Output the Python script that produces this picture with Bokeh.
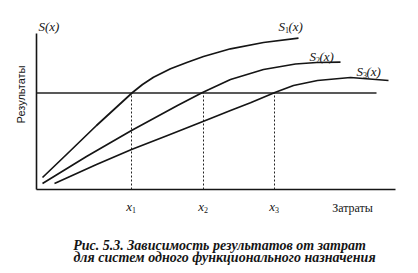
import math
from bokeh.plotting import figure
from bokeh.models import Range1d
from bokeh.core.properties import value
from bokeh.embed import file_html
from bokeh.resources import INLINE

# ---- data (cost units along x, result units along y) ----
s1_x = [6, 30, 60, 84, 96, 106, 117, 134, 151, 167, 194, 227, 262]
s1_y = [12, 35, 64, 86, 97, 105, 112.3, 120.7, 127.3, 133, 140.7, 147, 151.3]

s2_x = [6, 50, 95, 141, 166, 194, 227, 259, 280, 304]
s2_y = [6, 33, 59, 84, 97, 110, 120, 125.5, 127, 127.3]

s3_x = [18, 60, 95, 131, 174, 194, 214, 239, 257, 281, 314, 352]
s3_y = [6, 25, 40, 54, 71, 79, 86.7, 97.3, 104, 109, 112, 109]

level = 96.5            # required result level
level_end = 340
x_marks = [95, 167, 238]  # x1, x2, x3
x_mark_labels = ["x", "x", "x"]
x_mark_subs = ["1", "2", "3"]
x_axis_end = 359
y_axis_end = 156

curve_labels = ["1", "2", "3"]
curve_label_pos = [(242, 163), (273, 133), (320, 118)]

caption = ["Рис. 5.3. Зависимость результатов от затрат",
           "для систем одного функционального назначения"]

SERIF = value("Liberation Serif")
SANS = value("Liberation Sans")
INK = "#151515"

p = figure(width=418, height=273, x_range=Range1d(-36, 382), y_range=Range1d(-84, 189),
           min_border=0, toolbar_location=None, output_backend="svg",
           x_axis_type=None, y_axis_type=None)
p.grid.visible = False
p.outline_line_color = None
p.background_fill_color = "white"
p.border_fill_color = "white"

# axes
p.segment(x0=[0, 0], y0=[0, 0], x1=[0, x_axis_end], y1=[y_axis_end, 0],
          line_color=INK, line_width=1.6)
# level line
p.segment(x0=[0], y0=[level], x1=[level_end], y1=[level], line_color="#222222", line_width=1.3)
# dashed verticals
p.segment(x0=x_marks, y0=[0] * 3, x1=x_marks, y1=[level] * 3,
          line_color="#222222", line_width=1, line_dash="2 2")

# curves
for xs, ys in [(s1_x, s1_y), (s2_x, s2_y), (s3_x, s3_y)]:
    p.line(xs, ys, line_color=INK, line_width=1.7, line_join="round")

# curve labels  S_k(x)
lx = [pt[0] for pt in curve_label_pos]
ly = [pt[1] for pt in curve_label_pos]
p.text(x=lx, y=ly, text=["S"] * 3, text_font=SERIF, text_font_style="italic",
       text_font_size="13px", text_color=INK, text_align="left", text_baseline="alphabetic")
p.text(x=[v + 6.5 for v in lx], y=[v - 3 for v in ly], text=curve_labels, text_font=SERIF,
       text_font_size="8px", text_color=INK, text_align="left", text_baseline="alphabetic")
p.text(x=[v + 10 for v in lx], y=ly, text=["(x)"] * 3, text_font=SERIF, text_font_style="italic",
       text_font_size="13px", text_color=INK, text_align="left", text_baseline="alphabetic")

# y axis title S(x)
p.text(x=[2], y=[163], text=["S(x)"], text_font=SERIF, text_font_style="italic",
       text_font_size="13px", text_color=INK, text_align="left", text_baseline="alphabetic")

# tick labels x_k
p.text(x=[v + 0.5 for v in x_marks], y=[-17] * 3, text=x_mark_labels, text_font=SERIF,
       text_font_style="italic", text_font_size="13px", text_color=INK,
       text_align="right", text_baseline="alphabetic")
p.text(x=[v + 0.5 for v in x_marks], y=[-20] * 3, text=x_mark_subs, text_font=SERIF,
       text_font_size="8px", text_color=INK, text_align="left", text_baseline="alphabetic")

# axis names
p.text(x=[316], y=[-18.5], text=["Затраты"], text_font=SERIF, text_font_size="12px",
       text_color=INK, text_align="center", text_baseline="alphabetic")
p.text(x=[-16], y=[95], text=["Результаты"], text_font=SANS, text_font_size="11px",
       text_color=INK, text_align="center", text_baseline="middle", angle=math.pi / 2)

# caption
p.text(x=[183, 188], y=[-56, -68], text=caption, text_font=SERIF,
       text_font_style="bold italic", text_font_size="14px", text_color=INK,
       text_align="center", text_baseline="alphabetic")

open("out.html", "w").write(file_html(p, INLINE))
